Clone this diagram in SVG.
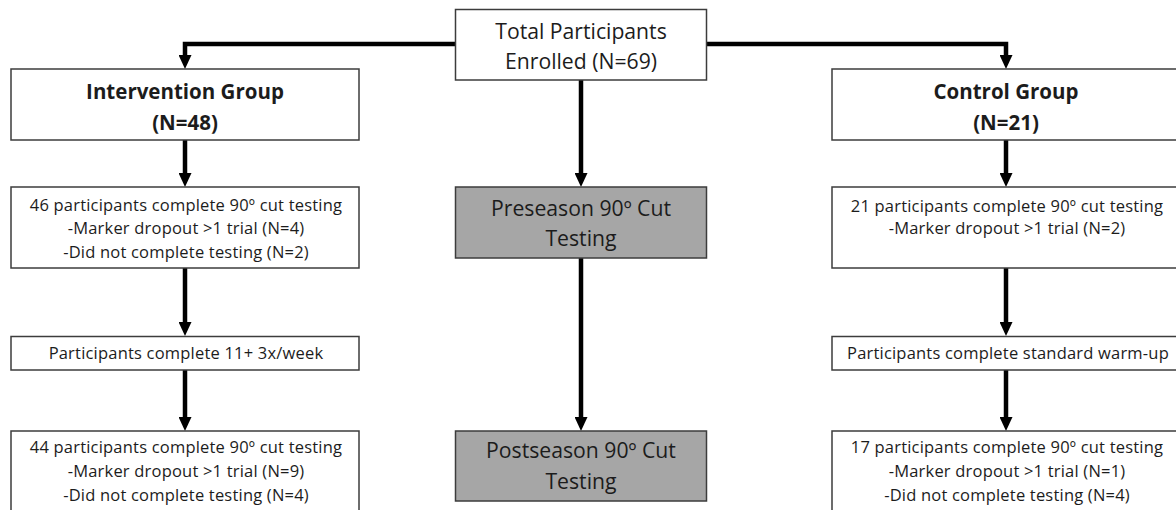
<svg xmlns="http://www.w3.org/2000/svg" width="1176" height="510" viewBox="0 0 1176 510">
<style>
.box{fill:#ffffff;stroke:#3c3c3c;stroke-width:1.5}
.grey{fill:#a6a6a6;stroke:#3c3c3c;stroke-width:1.5}
.t{font-family:"Open Sans","Noto Sans","Liberation Sans",sans-serif;fill:#1c1c1c;text-anchor:middle}
.s{font-size:16.5px;letter-spacing:0.2px}
.l{font-size:21.2px}
.b{font-size:20.5px;font-weight:bold}
.c{fill:none;stroke:#000;stroke-width:4.5}
</style>
<defs>
<marker id="ah" markerUnits="userSpaceOnUse" viewBox="0 0 14 13" markerWidth="14" markerHeight="13" refX="1" refY="6.5" orient="auto">
<path d="M0,0 L14,6.5 L0,13 Z" fill="#000"/>
</marker>
</defs>
<rect width="1176" height="510" fill="#ffffff"/>
<g id="connectors">
<path class="c" d="M456,44 H185 V56" marker-end="url(#ah)"/>
<path class="c" d="M706,44 H1006 V56" marker-end="url(#ah)"/>
<path class="c" d="M185,140 V174" marker-end="url(#ah)"/>
<path class="c" d="M185,268 V323" marker-end="url(#ah)"/>
<path class="c" d="M185,370 V418" marker-end="url(#ah)"/>
<path class="c" d="M581,80 V174" marker-end="url(#ah)"/>
<path class="c" d="M581,258 V418" marker-end="url(#ah)"/>
<path class="c" d="M1006,140 V174" marker-end="url(#ah)"/>
<path class="c" d="M1006,268 V323" marker-end="url(#ah)"/>
<path class="c" d="M1006,370 V418" marker-end="url(#ah)"/>
</g>
<g id="total">
<rect class="box" x="455.5" y="9.5" width="251" height="70.5"/>
<text class="t l" x="581" y="39">Total Participants</text>
<text class="t l" x="581" y="69">Enrolled (N=69)</text>
</g>
<g id="intervention">
<rect class="box" x="11" y="69" width="348" height="71"/>
<text class="t b" x="185" y="99">Intervention Group</text>
<text class="t b" x="185" y="129.5">(N=48)</text>
</g>
<g id="control">
<rect class="box" x="832" y="69" width="352" height="71"/>
<text class="t b" x="1006" y="99">Control Group</text>
<text class="t b" x="1006" y="130">(N=21)</text>
</g>
<g id="int-pre">
<rect class="box" x="11" y="187" width="348" height="81"/>
<text class="t s" x="186" y="210.5">46 participants complete 90º cut testing</text>
<text class="t s" x="186" y="234">-Marker dropout &gt;1 trial (N=4)</text>
<text class="t s" x="186" y="257.5">-Did not complete testing (N=2)</text>
</g>
<g id="preseason">
<rect class="grey" x="455.5" y="187" width="251" height="71"/>
<text class="t l" x="581" y="215.5">Preseason 90º Cut</text>
<text class="t l" x="581" y="246">Testing</text>
</g>
<g id="ctrl-pre">
<rect class="box" x="832" y="187" width="352" height="81"/>
<text class="t s" x="1007" y="212">21 participants complete 90º cut testing</text>
<text class="t s" x="1007" y="234">-Marker dropout &gt;1 trial (N=2)</text>
</g>
<g id="int-train">
<rect class="box" x="11" y="336.5" width="348" height="33.5"/>
<text class="t s" x="186" y="358.5">Participants complete 11+ 3x/week</text>
</g>
<g id="ctrl-train">
<rect class="box" x="832" y="336.5" width="352" height="33.5"/>
<text class="t s" x="1008" y="359">Participants complete standard warm-up</text>
</g>
<g id="int-post">
<rect class="box" x="11" y="431" width="348" height="90"/>
<text class="t s" x="186" y="452.5">44 participants complete 90º cut testing</text>
<text class="t s" x="186" y="477">-Marker dropout &gt;1 trial (N=9)</text>
<text class="t s" x="186" y="500.5">-Did not complete testing (N=4)</text>
</g>
<g id="postseason">
<rect class="grey" x="455.5" y="431" width="251" height="70"/>
<text class="t l" x="581" y="458">Postseason 90º Cut</text>
<text class="t l" x="581" y="489">Testing</text>
</g>
<g id="ctrl-post">
<rect class="box" x="832" y="431" width="352" height="90"/>
<text class="t s" x="1007" y="452.5">17 participants complete 90º cut testing</text>
<text class="t s" x="1007" y="477">-Marker dropout &gt;1 trial (N=1)</text>
<text class="t s" x="1007" y="500.5">-Did not complete testing (N=4)</text>
</g>
</svg>
